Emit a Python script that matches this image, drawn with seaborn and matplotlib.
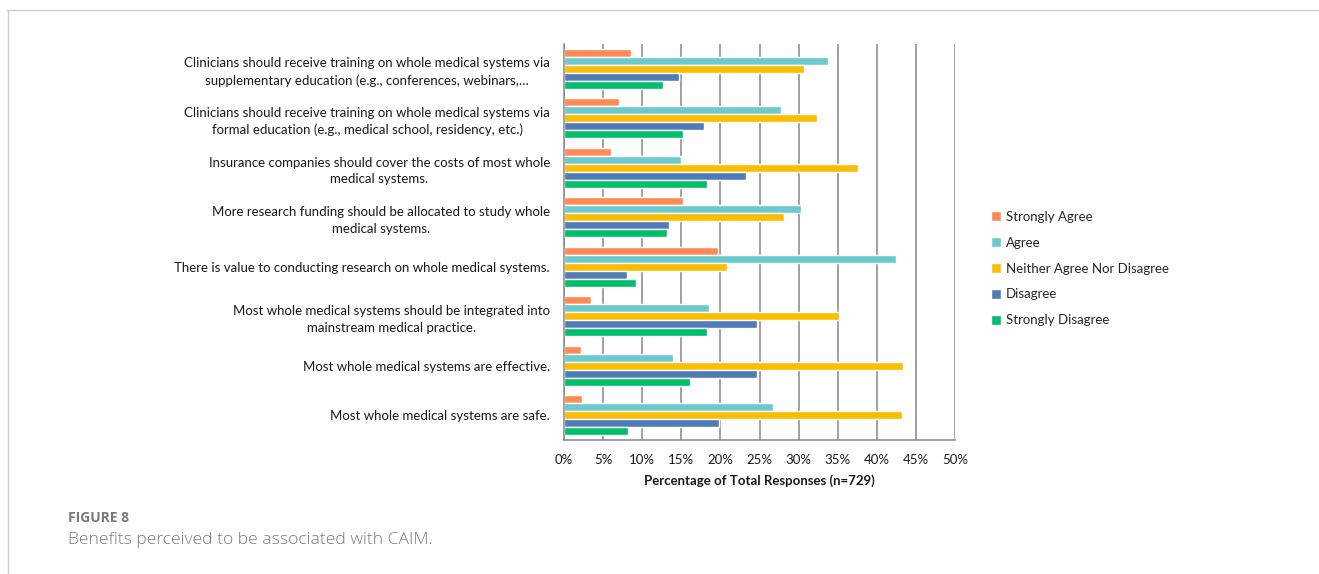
import matplotlib
matplotlib.use("Agg")
import matplotlib.pyplot as plt
from matplotlib.lines import Line2D
from matplotlib.ticker import MultipleLocator, FuncFormatter, FixedLocator
import seaborn as sns
import pandas as pd

statements = [
    "Clinicians should receive training on whole medical systems via\nsupplementary education (e.g., conferences, webinars,\u2026",
    "Clinicians should receive training on whole medical systems via\nformal education (e.g., medical school, residency, etc.)",
    "Insurance companies should cover the costs of most whole\nmedical systems.",
    "More research funding should be allocated to study whole\nmedical systems.",
    "There is value to conducting research on whole medical systems.",
    "Most whole medical systems should be integrated into\nmainstream medical practice.",
    "Most whole medical systems are effective.",
    "Most whole medical systems are safe.",
]
responses = ["Strongly Agree", "Agree", "Neither Agree Nor Disagree", "Disagree", "Strongly Disagree"]

strongly_agree = [8.6, 7.0, 6.0, 15.2, 19.7, 3.4, 2.2, 2.3]
agree = [33.8, 27.8, 14.9, 30.3, 42.4, 18.5, 13.9, 26.7]
neither = [30.7, 32.4, 37.6, 28.1, 20.8, 35.2, 43.3, 43.2]
disagree = [14.7, 17.9, 23.3, 13.4, 8.1, 24.7, 24.7, 19.8]
strongly_disagree = [12.6, 15.2, 18.3, 13.2, 9.2, 18.3, 16.1, 8.2]

colors = ["#FF8A55", "#6CCACC", "#FABE00", "#4F7CB6", "#00BF6B"]

series = [strongly_agree, agree, neither, disagree, strongly_disagree]
rows = []
for resp, vals in zip(responses, series):
    for st, v in zip(statements, vals):
        rows.append({"statement": st, "response": resp, "value": v})
df = pd.DataFrame(rows)

sns.set_style("white")
plt.rcParams["font.family"] = ["Lato", "DejaVu Sans"]

fig = plt.figure(figsize=(13.19, 5.74), dpi=100)
ax = fig.add_axes([564/1319, 1-440/574, (955-564)/1319, (440-44)/574])

sns.barplot(data=df, y="statement", x="value", hue="response", order=statements,
            hue_order=responses, palette=colors, orient="h", ax=ax, width=0.8,
            saturation=1, errorbar=None)

ax.set_xlim(0, 50)
ax.xaxis.set_major_locator(MultipleLocator(5))
ax.xaxis.set_major_formatter(FuncFormatter(lambda v, p: f"{int(v)}%"))
ax.grid(axis="x", color="#878787", linewidth=1.1)
ax.set_axisbelow(True)
for s in ["top", "right"]:
    ax.spines[s].set_visible(False)
for s in ["left", "bottom"]:
    ax.spines[s].set_color("#878787")
    ax.spines[s].set_linewidth(1.1)

ax.tick_params(axis="x", direction="out", length=4, color="#878787", labelsize=9.5,
               pad=6, labelcolor="#1a1a1a")
ax.tick_params(axis="y", which="major", length=0, labelsize=9.5, pad=10, labelcolor="#1a1a1a")
ax.yaxis.set_minor_locator(FixedLocator([i - 0.5 for i in range(len(statements) + 1)]))
ax.tick_params(axis="y", which="minor", length=4, color="#878787", direction="out")
for lab in ax.get_yticklabels():
    lab.set_multialignment("center")
    lab.set_linespacing(1.45)

ax.set_ylabel("")
ax.set_xlabel("Percentage of Total Responses (n=729)", fontsize=9.5, fontweight="bold",
              labelpad=6, color="#1a1a1a")

handles, labels = ax.get_legend_handles_labels()
ax.get_legend().remove()
fig.legend(handles, labels, loc="upper left", bbox_to_anchor=(979/1319, 1-199/574),
           bbox_transform=fig.transFigure, frameon=False, fontsize=9.5,
           handlelength=0.75, handleheight=0.75, handletextpad=0.4, labelspacing=1.05)

# card frame
fig.add_artist(Line2D([7/1319, 1], [1-9.5/574, 1-9.5/574], transform=fig.transFigure,
                      color="#cccccc", linewidth=1))
fig.add_artist(Line2D([7.5/1319, 7.5/1319], [0, 1-9.5/574], transform=fig.transFigure,
                      color="#cccccc", linewidth=1))

fig.text(68/1319, 1-518/574, "FIGURE 8", fontsize=10, fontweight="bold", color="#7a7a7a",
         va="center", ha="left", family=["Open Sans", "DejaVu Sans"])
fig.text(68/1319, 1-540/574, "Benefits perceived to be associated with CAIM.", fontsize=12.6,
         color="#7a7a7a", va="center", ha="left", family=["Open Sans", "DejaVu Sans"],
         fontweight="light")

fig.savefig("out.png", dpi=100, facecolor="white")
